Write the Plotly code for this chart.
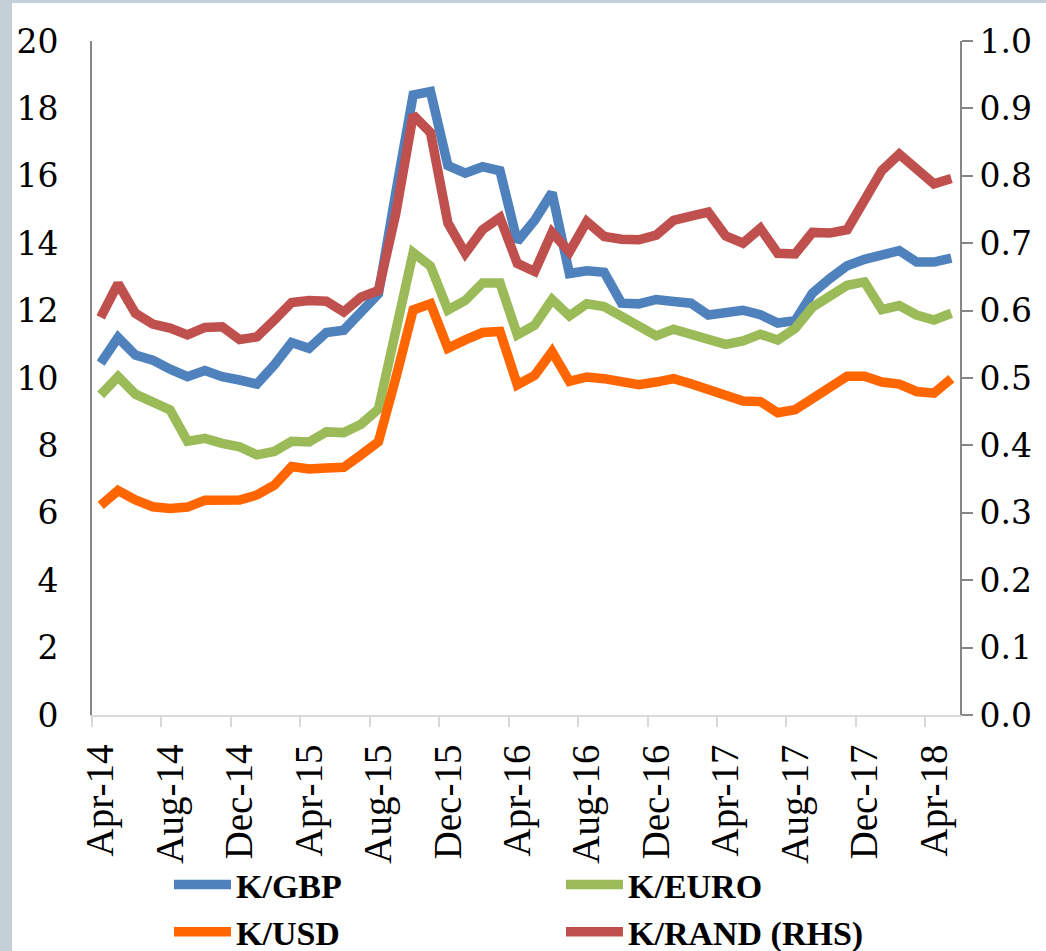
import plotly.graph_objects as go

months = ["Apr-14","May-14","Jun-14","Jul-14","Aug-14","Sep-14","Oct-14","Nov-14","Dec-14",
          "Jan-15","Feb-15","Mar-15","Apr-15","May-15","Jun-15","Jul-15","Aug-15","Sep-15","Oct-15","Nov-15","Dec-15",
          "Jan-16","Feb-16","Mar-16","Apr-16","May-16","Jun-16","Jul-16","Aug-16","Sep-16","Oct-16","Nov-16","Dec-16",
          "Jan-17","Feb-17","Mar-17","Apr-17","May-17","Jun-17","Jul-17","Aug-17","Sep-17","Oct-17","Nov-17","Dec-17",
          "Jan-18","Feb-18","Mar-18","Apr-18","May-18"]

k_gbp = [10.44, 11.2, 10.68, 10.53, 10.26, 10.04, 10.22, 10.04, 9.94, 9.82,
         10.39, 11.05, 10.88, 11.35, 11.42, 11.95, 12.5, 15.5, 18.4, 18.5,
         16.3, 16.08, 16.27, 16.15, 14.05, 14.68, 15.5, 13.1, 13.18, 13.14,
         12.22, 12.2, 12.33, 12.27, 12.22, 11.87, 11.96, 12.01, 11.88, 11.63,
         11.7, 12.52, 12.95, 13.33, 13.52, 13.68, 13.78, 13.44, 13.44, 13.56]

k_euro = [9.5, 10.04, 9.52, 9.28, 9.05, 8.12, 8.21, 8.06, 7.96, 7.72,
          7.82, 8.12, 8.1, 8.4, 8.38, 8.63, 9.08, 11.4, 13.72, 13.32,
          12.02, 12.3, 12.82, 12.82, 11.28, 11.57, 12.33, 11.84, 12.2, 12.12,
          11.82, 11.52, 11.25, 11.45, 11.32, 11.14, 11.0, 11.1, 11.3, 11.13,
          11.47, 12.1, 12.42, 12.75, 12.85, 12.03, 12.15, 11.87, 11.72, 11.92]

k_usd = [6.22, 6.66, 6.38, 6.18, 6.13, 6.17, 6.37, 6.38, 6.38, 6.53,
         6.82, 7.37, 7.3, 7.33, 7.35, 7.72, 8.11, 10.0, 12.02, 12.2,
         10.88, 11.13, 11.35, 11.38, 9.8, 10.08, 10.78, 9.9, 10.03, 9.98,
         9.9, 9.8, 9.88, 9.98, 9.83, 9.65, 9.5, 9.32, 9.3, 8.97,
         9.06, 9.4, 9.74, 10.05, 10.05, 9.88, 9.82, 9.6, 9.55, 9.98]

k_rand = [0.59, 0.64, 0.596, 0.58, 0.574, 0.564, 0.575, 0.576, 0.557, 0.561,
          0.586, 0.612, 0.615, 0.614, 0.598, 0.62, 0.63, 0.744, 0.89, 0.864,
          0.73, 0.685, 0.72, 0.738, 0.67, 0.658, 0.716, 0.687, 0.732, 0.71,
          0.706, 0.705, 0.712, 0.734, 0.74, 0.746, 0.711, 0.7, 0.722, 0.685,
          0.684, 0.716, 0.715, 0.72, 0.764, 0.808, 0.832, 0.812, 0.788, 0.796]

left_ticks = [0, 2, 4, 6, 8, 10, 12, 14, 16, 18, 20]
right_ticks = [0.0, 0.1, 0.2, 0.3, 0.4, 0.5, 0.6, 0.7, 0.8, 0.9, 1.0]

idx = list(range(len(months)))
label_idx = idx[::4]
label_text = [months[i] for i in label_idx]
boundary_ticks = [i - 0.5 for i in label_idx]

W, H = 1046, 951
L, R, T, B = 92, 86, 41, 236
pw, ph = W - L - R, H - T - B

fig = go.Figure()
lw = 9.5
fig.add_trace(go.Scatter(x=idx, y=k_gbp, name="K/GBP", mode="lines",
                         line=dict(color="#4f81bd", width=lw)))
fig.add_trace(go.Scatter(x=idx, y=k_euro, name="K/EURO", mode="lines",
                         line=dict(color="#9bbb59", width=lw)))
fig.add_trace(go.Scatter(x=idx, y=k_usd, name="K/USD", mode="lines",
                         line=dict(color="#ff6600", width=lw)))
fig.add_trace(go.Scatter(x=idx, y=k_rand, name="K/RAND (RHS)", mode="lines",
                         line=dict(color="#c0504d", width=lw), yaxis="y2"))

fig.update_layout(
    width=W, height=H,
    margin=dict(l=L, r=R, t=T, b=B, autoexpand=False),
    paper_bgcolor="white", plot_bgcolor="white",
    showlegend=True,
    legend=dict(orientation="h", x=(169 - L) / pw, xanchor="left",
                y=-(856 - (T + ph)) / ph, yanchor="top",
                itemwidth=57,
                entrywidth=320, entrywidthmode="pixels",
                font=dict(family="Liberation Serif", size=34, color="black", weight="bold"),
                bgcolor="rgba(0,0,0,0)", tracegroupgap=0),
    xaxis=dict(range=[-0.5, len(months) - 0.5], tickmode="array",
               tickvals=label_idx, ticktext=label_text, tickangle=-90,
               ticks="", showgrid=False, zeroline=False,
               showline=True, linecolor="#d9d9d9", linewidth=2,
               ticklabelstandoff=12,
               tickfont=dict(family="Liberation Serif", size=39, color="black"),
               minor=dict(tickmode="array", tickvals=boundary_ticks, ticks="outside",
                          ticklen=10, tickcolor="#d9d9d9", tickwidth=2, showgrid=False)),
    yaxis=dict(range=[0, 20], tickmode="array", tickvals=left_ticks,
               ticks="", showgrid=False, zeroline=False,
               showline=True, linecolor="#868686", linewidth=2,
               ticklabelstandoff=25,
               tickfont=dict(family="DejaVu Serif", size=33, color="black")),
    yaxis2=dict(range=[0, 1], overlaying="y", side="right", tickmode="array",
                tickvals=right_ticks, tickformat=".1f",
                ticks="outside", ticklen=11, tickcolor="#868686", tickwidth=2,
                showgrid=False, zeroline=False,
                showline=True, linecolor="#868686", linewidth=2,
                tickfont=dict(family="DejaVu Serif", size=33, color="black")),
)

# outer grey frame strips (left and top), as in the source screenshot
fig.add_shape(type="rect", xref="paper", yref="paper",
              x0=-L / pw, x1=(12 - L) / pw, y0=-B / ph, y1=(T + ph) / ph,
              fillcolor="#c5cfd7", line=dict(width=0), layer="below")
fig.add_shape(type="rect", xref="paper", yref="paper",
              x0=-L / pw, x1=(W - L) / pw, y0=(ph + T - 3) / ph, y1=(ph + T) / ph,
              fillcolor="#c5cfd7", line=dict(width=0), layer="below")

fig.write_html("out.html", config={"displayModeBar": False},
               post_script="document.body.style.margin='0';document.body.style.overflow='hidden';")
